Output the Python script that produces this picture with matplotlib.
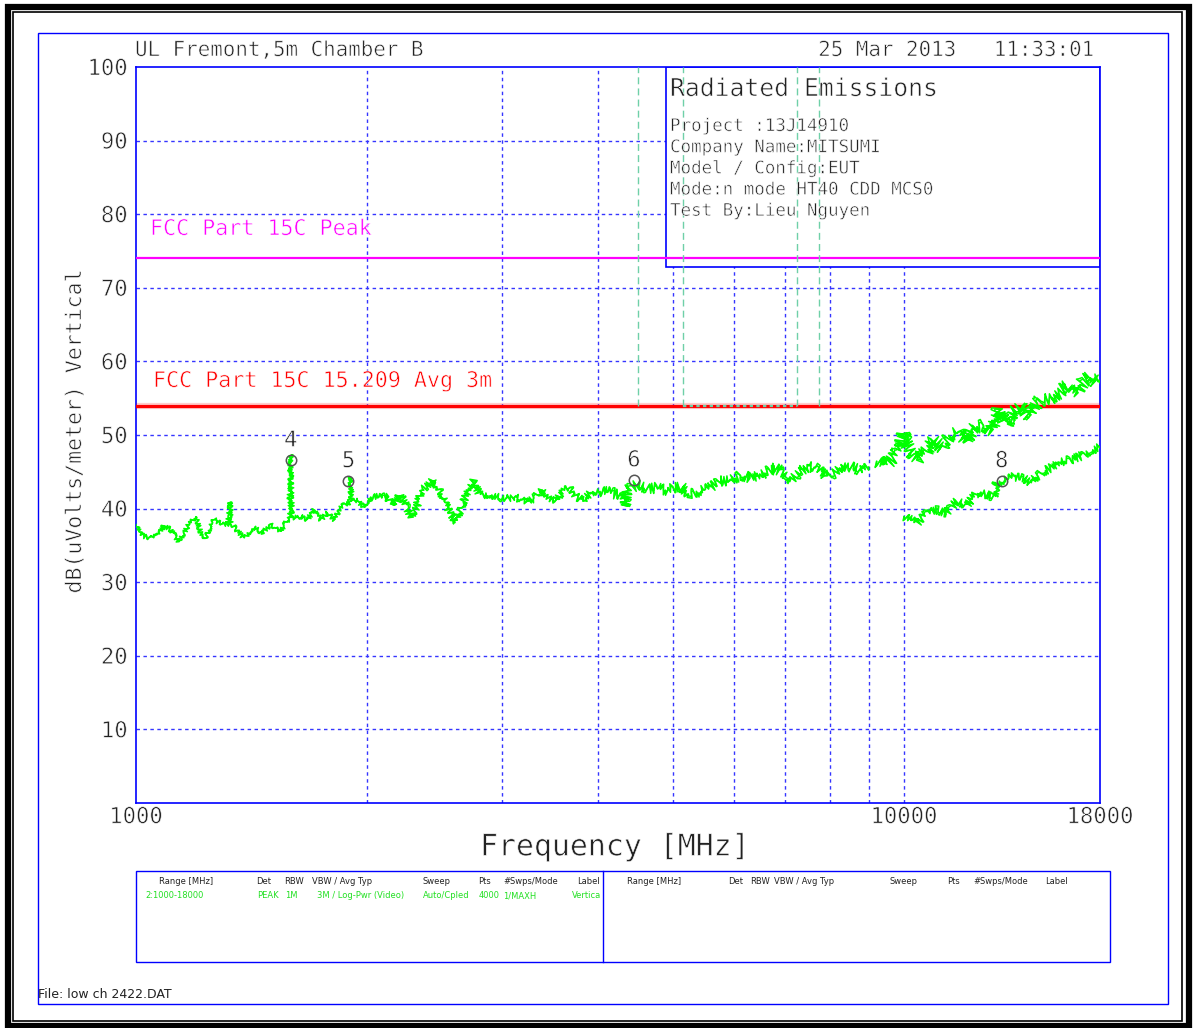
import numpy as np
import matplotlib
matplotlib.use('Agg')
import matplotlib.pyplot as plt
import matplotlib.patheffects as pe
from matplotlib.patches import Rectangle

# peak trace, 1000-18000 MHz
pk_freq = [1000, 1014, 1045, 1066, 1088, 1110, 1137, 1166, 1196, 1214, 1232, 1264, 1295, 1318, 1326, 1331,
           1342, 1382, 1424, 1460, 1497, 1543, 1574, 1583, 1590, 1596, 1606, 1638, 1671, 1705, 1740, 1775,
           1811, 1848, 1884, 1899, 1904, 1909, 1942, 1981, 2021, 2083, 2121, 2163, 2207, 2240, 2279, 2320,
           2355, 2391, 2434, 2475, 2525, 2576, 2610, 2655, 2708, 2749, 2804, 2890, 2978, 3038, 3099, 3162,
           3226, 3291, 3375, 3460, 3530, 3601, 3674, 3748, 3823, 3920, 4019, 4141, 4267, 4340, 4354, 4487,
           4624, 4764, 4909, 5007, 5134, 5265, 5425, 5589, 5759, 5934, 6115, 6301, 6494, 6625, 6792, 6963,
           7140, 7322, 7506, 7697, 7931, 8091, 8297, 8506, 8765, 8985, 9213, 9446, 9685, 9881, 10000, 10030,
           10181, 10438, 10704, 10918, 11197, 11480, 11770, 12069, 12373, 12687, 13009, 13270, 13605, 13878,
           14159, 14592, 15036, 15497, 15968, 16282, 16779, 17121, 17467, 17730, 18000]
pk_db = [37.8, 36.4, 36.0, 36.3, 37.7, 37.1, 35.5, 37.5, 38.9, 36.8, 36.0, 38.5, 37.8, 37.9, 40.9, 37.8,
         37.5, 36.0, 37.5, 36.7, 37.8, 36.8, 38.5, 38.5, 47.3, 38.8, 38.7, 38.9, 38.5, 39.8, 38.5, 39.4,
         38.5, 40.2, 40.8, 40.5, 44.2, 41.0, 41.2, 40.1, 41.5, 41.5, 41.6, 40.3, 41.9, 40.8, 38.9, 40.3,
         42.6, 43.0, 43.9, 42.8, 40.8, 38.9, 38.2, 40.3, 42.6, 43.7, 41.9, 41.9, 41.5, 41.3, 41.6, 41.3,
         40.8, 41.3, 42.6, 41.5, 41.1, 42.6, 42.8, 41.6, 41.1, 42.3, 42.3, 42.2, 41.9, 40.2, 42.5, 43.2,
         42.8, 42.8, 42.5, 42.8, 43.0, 41.9, 42.3, 42.8, 43.7, 43.7, 44.6, 44.2, 44.6, 45.0, 45.5, 45.0,
         43.9, 45.0, 45.7, 45.5, 44.3, 44.8, 45.9, 45.7, 45.2, 45.7, 46.4, 45.9, 46.9, 48.2, 50.4, 49.1,
         47.8, 46.9, 47.8, 49.3, 48.4, 49.8, 50.3, 49.1, 51.1, 51.4, 50.7, 53.4, 51.4, 53.2,
         53.9, 52.5, 54.8, 55.0, 55.9, 56.6, 55.7, 57.3, 57.9, 57.3, 57.5]

# second (lower) trace, 10-18 GHz
av_freq = [10000, 10181, 10388, 10704, 11030, 11366, 11712, 12069, 12436, 12815, 13073, 13206, 13467,
           13878, 14301, 14592, 15036, 15497, 15968, 16446, 16947, 17467, 18000]
av_db = [38.9, 38.5, 38.0, 39.4, 39.8, 39.4, 41.0, 40.5, 42.1, 41.9, 41.6, 43.5, 43.7,
         44.3, 44.1, 43.5, 44.8, 45.5, 46.4, 46.6, 47.1, 47.8, 48.4]

# markers
mk_num = ['4', '5', '6', '8']
mk_freq = [1590, 1891, 4450, 13405]
mk_db = [46.6, 43.8, 43.9, 43.8]

# limits
peak_limit = 74
avg_limit = 54
band_edges = [4500, 5150, 7250, 7750]

grid_x = [2000, 3000, 4000, 5000, 6000, 7000, 8000, 9000, 10000]
grid_y = [10, 20, 30, 40, 50, 60, 70, 80, 90]
xtick_vals = [1000, 10000, 18000]
ytick_vals = [10, 20, 30, 40, 50, 60, 70, 80, 90, 100]

info_lines = ['Project :13J14910', 'Company Name:MITSUMI', 'Model / Config:EUT',
              'Mode:n mode HT40 CDD MCS0', 'Test By:Lieu Nguyen']

tbl_head = ['Range [MHz]', 'Det', 'RBW', 'VBW / Avg Typ', 'Sweep', 'Pts', '#Swps/Mode', 'Label']
tbl_row = ['2:1000-18000', 'PEAK', '1M', '3M / Log-Pwr (Video)', 'Auto/Cpled', '4000', '1/MAXH', 'Vertica']

BLUE = '#0000ff'
GREEN = '#00ff00'
TXT = '#222222'
MONO = 'DejaVu Sans Mono'
# thin the glyphs a little, the original is a single stroke plotter font
THIN = [pe.Stroke(linewidth=0.45, foreground='white')]

W, H = 1195, 1028
fig = plt.figure(figsize=(W / 100, H / 100), dpi=100)
fig.set_facecolor('white')

# overlay in pixel coordinates for frames and free text
ov = fig.add_axes([0, 0, 1, 1])
ov.set_xlim(0, W)
ov.set_ylim(H, 0)
ov.axis('off')

# black double frame
ov.add_patch(Rectangle((8, 6.5), 1181, 1019, fill=False, ec='black', lw=4.5))
ov.add_patch(Rectangle((13.5, 11.5), 1169, 1009.5, fill=False, ec='black', lw=1.2))
# blue outer frame
ov.add_patch(Rectangle((38, 33), 1130, 971, fill=False, ec=BLUE, lw=1))

# main plot
ax = fig.add_axes([136 / W, 1 - 803 / H, 964 / W, 736 / H])
ax.set_zorder(2)
ax.set_xscale('log')
ax.set_xlim(1000, 18000)
ax.set_ylim(0, 100)
for s in ax.spines.values():
    s.set_color(BLUE)
    s.set_linewidth(1.2)

for gy in grid_y:
    ax.axhline(gy, color='#3535ff', lw=1, ls=(0, (2.5, 2.5)), zorder=1)
for gx in grid_x:
    ax.axvline(gx, color='#3535ff', lw=1, ls=(0, (2.5, 2.5)), zorder=1)

ax.set_xticks(xtick_vals)
ax.set_xticklabels([str(v) for v in xtick_vals])
ax.set_xticks([], minor=True)
ax.set_yticks(ytick_vals)
ax.set_yticklabels([str(v) for v in ytick_vals])
ax.tick_params(length=0, labelcolor=TXT, labelsize=16)
ax.tick_params(axis='y', pad=6)
ax.tick_params(axis='x', pad=3)
for lab in ax.get_xticklabels() + ax.get_yticklabels():
    lab.set_family(MONO)
    lab.set_path_effects(THIN)

# info box (white, hides the grid)
ax.add_patch(Rectangle((0.5498, 0.7283), 0.4502, 0.2717, transform=ax.transAxes,
                       fc='white', ec=BLUE, lw=1.2, zorder=2))

# limit lines
ax.axhline(peak_limit, color='#ff00ff', lw=1.6, zorder=3)
ax.axhline(avg_limit, color='#ff0000', lw=4.5, alpha=0.2, zorder=3)
ax.axhline(avg_limit, color='#ff0000', lw=2.3, zorder=3)

# restricted band edges
for f in band_edges:
    ax.plot([f, f], [avg_limit, 100], color='#6fd0a8', lw=1, ls=(0, (5, 3)), zorder=3)
ax.plot([band_edges[1], band_edges[2]], [avg_limit, avg_limit], color='#6fd0a8', lw=1.6,
        ls=(0, (1.5, 1.5)), zorder=3.5)

# traces, drawn with a sketch wiggle to look like the analyzer noise
pf = np.array(pk_freq)
pdb = np.array(pk_db)
segs = [(1000, 2030, 2.5), (2000, 4030, 4), (4000, 9100, 5.5), (9000, 18000, 7)]
for lo, hi, amp in segs:
    m = (pf >= lo) & (pf <= hi)
    for k in (1.0, 0.5):
        ln, = ax.plot(pf[m], pdb[m], color=GREEN, lw=1.1, zorder=4)
        ln.set_sketch_params(scale=amp * k, length=1.0, randomness=6)
for k in (1.0, 0.5):
    ln, = ax.plot(av_freq, av_db, color=GREEN, lw=1.1, zorder=4)
    ln.set_sketch_params(scale=4.5 * k, length=1.0, randomness=6)

# markers
ax.plot(mk_freq, mk_db, 'o', ms=7.5, mfc='none', mec='#555555', mew=1.1, zorder=5)
for n, f, v in zip(mk_num, mk_freq, mk_db):
    ax.annotate(n, (f, v), xytext=(0, 14), textcoords='offset points', ha='center', va='center',
                fontsize=16, color=TXT, family=MONO, zorder=5, path_effects=THIN)

# header / labels
ov.text(135, 50, 'UL Fremont,5m Chamber B', fontsize=15, color=TXT, family=MONO, va='center',
        path_effects=THIN)
ov.text(1096, 50, '25 Mar 2013   11:33:01', fontsize=15, color=TXT, family=MONO, va='center',
        ha='right', path_effects=THIN)
ov.text(75, 431, 'dB(uVolts/meter) Vertical', fontsize=15.5, color=TXT, family=MONO, rotation=90,
        ha='center', va='center', path_effects=THIN)
ov.text(615, 847, 'Frequency [MHz]', fontsize=21.5, color=TXT, family=MONO, ha='center', va='center',
        path_effects=THIN)

fig.text(150 / W, 1 - 229 / H, 'FCC Part 15C Peak', fontsize=15.6, color='#ff00ff', family=MONO,
         va='center', zorder=6, path_effects=THIN)
fig.text(153 / W, 1 - 381 / H, 'FCC Part 15C 15.209 Avg 3m', fontsize=15.6, color='#ff0000', family=MONO,
         va='center', zorder=6, path_effects=THIN)

fig.text(670 / W, 1 - 89 / H, 'Radiated Emissions', fontsize=17.8, color=TXT, family=MONO, va='center',
         zorder=6, path_effects=THIN)
for i, line in enumerate(info_lines):
    fig.text(670 / W, 1 - (126 + 21.2 * i) / H, line, fontsize=12.6, color=TXT, family=MONO,
             va='center', zorder=6, path_effects=THIN)

# setup table
ov.add_patch(Rectangle((136, 871), 974, 91, fill=False, ec=BLUE, lw=1))
ov.plot([603, 603], [871, 962], color=BLUE, lw=1)
left_cols = [159, 256, 284, 312, 423, 478, 503, 577]
row_cols = [145, 257, 285, 317, 423, 479, 503, 572]
right_cols = [627, 728, 750, 774, 890, 947, 973, 1045]
tfont = dict(fontsize=6, family='DejaVu Sans', va='center')
for x, t in zip(left_cols, tbl_head):
    ov.text(x, 882, t, color='#222222', **tfont)
for x, t in zip(row_cols, tbl_row):
    ov.text(x, 896, t, color='#22e022', **tfont)
for x, t in zip(right_cols, tbl_head):
    ov.text(x, 882, t, color='#222222', **tfont)

ov.text(38, 994, 'File: low ch 2422.DAT', fontsize=9, color='#222222', va='center')

fig.savefig('out.png', dpi=100)
